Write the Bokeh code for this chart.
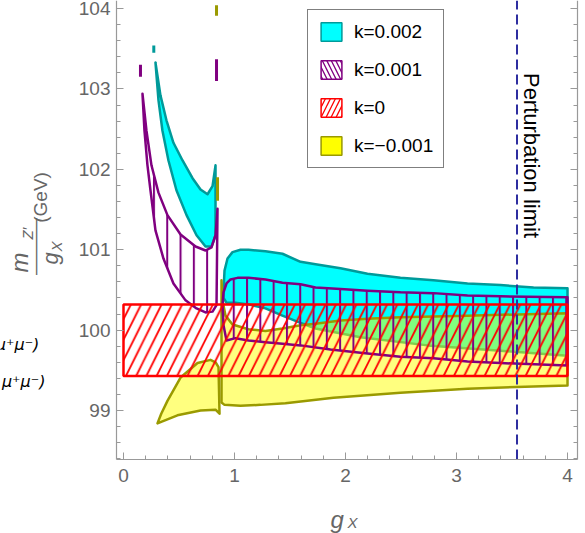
import math
from bokeh.plotting import figure
from bokeh.models import (Legend, LegendItem, Label, LinearAxis, Range1d,
                          SingleIntervalTicker, CustomJSTickFormatter)
from bokeh.embed import file_html
from bokeh.resources import INLINE

# ---------------- data ----------------
# k = 0.002 (cyan), left piece
cyan_l_top_x = [0.288, 0.333, 0.387, 0.450, 0.532, 0.622, 0.694, 0.757, 0.802, 0.829]
cyan_l_top_y = [103.33, 102.92, 102.61, 102.33, 102.11, 101.89, 101.75, 101.69, 101.79, 102.05]
cyan_l_bot_x = [0.288, 0.315, 0.351, 0.405, 0.477, 0.568, 0.658, 0.739, 0.793, 0.829]
cyan_l_bot_y = [103.33, 102.86, 102.48, 102.11, 101.74, 101.43, 101.18, 101.04, 101.04, 101.18]
# k = 0.002 (cyan), right piece
cyan_r_top_x = [0.901, 0.910, 0.937, 0.982, 1.054, 1.126, 1.279, 1.432, 1.595, 1.730, 1.955,
                2.198, 2.495, 2.793, 3.099, 3.396, 3.694, 4.000]
cyan_r_top_y = [100.49, 100.74, 100.89, 100.97, 101.00, 101.00, 100.98, 100.95, 100.85, 100.82,
                100.77, 100.70, 100.65, 100.62, 100.58, 100.56, 100.53, 100.52]
cyan_r_bot_x = [0.901, 0.928, 1.009, 1.126, 1.279, 1.432, 1.577, 1.730, 2.135, 2.739, 3.333, 4.000]
cyan_r_bot_y = [100.40, 100.34, 100.34, 100.32, 100.27, 100.18, 100.10, 100.02, 99.91, 99.81, 99.75, 99.68]

# k = 0.001 (purple hatched), left piece
pur_l_top_x = [0.171, 0.207, 0.252, 0.315, 0.396, 0.514, 0.649, 0.739, 0.793, 0.829, 0.847]
pur_l_top_y = [102.94, 102.48, 102.05, 101.71, 101.43, 101.19, 101.04, 100.99, 101.03, 101.18, 101.51]
pur_l_bot_x = [0.171, 0.189, 0.216, 0.243, 0.288, 0.360, 0.450, 0.559, 0.658, 0.739, 0.802, 0.838]
pur_l_bot_y = [102.94, 102.48, 102.05, 101.74, 101.24, 100.89, 100.58, 100.37, 100.27, 100.22, 100.23, 100.31]
# k = 0.001 (purple hatched), right piece
pur_r_top_x = [0.901, 0.928, 0.964, 1.027, 1.126, 1.279, 1.432, 1.595, 1.730, 1.955, 2.198, 2.495,
               2.793, 3.099, 3.396, 4.000]
pur_r_top_y = [100.47, 100.58, 100.63, 100.65, 100.65, 100.63, 100.59, 100.57, 100.53, 100.51, 100.49,
               100.47, 100.46, 100.43, 100.42, 100.41]
pur_r_bot_x = [0.892, 0.901, 0.928, 1.009, 1.126, 1.279, 1.432, 1.595, 1.865, 2.198, 2.495, 2.793,
               3.099, 3.396, 4.000]
pur_r_bot_y = [100.31, 100.06, 99.87, 99.90, 99.87, 99.85, 99.83, 99.81, 99.76, 99.71, 99.67, 99.65,
               99.61, 99.59, 99.56]

# k = 0 (red hatched band)
red_x = [0.0, 4.0]
red_y = [99.43, 100.32]

# k = -0.001 (yellow), left piece
yel_l_top_x = [0.306, 0.340, 0.396, 0.514, 0.667, 0.784, 0.829, 0.856]
yel_l_top_y = [98.84, 98.96, 99.12, 99.41, 99.59, 99.63, 99.60, 99.54]
yel_l_bot_x = [0.306, 0.486, 0.694, 0.829, 0.865]
yel_l_bot_y = [98.84, 98.94, 99.00, 99.01, 98.96]
# k = -0.001 (yellow), right piece
yel_r_top_x = [0.883, 0.892, 0.919, 0.982, 1.126, 1.279, 1.432, 1.595, 1.730, 1.955, 2.198, 2.495,
               2.793, 3.099, 3.396, 4.000]
yel_r_top_y = [100.62, 100.37, 100.18, 100.07, 100.01, 99.99, 100.02, 100.06, 100.08, 100.12, 100.14,
               100.16, 100.17, 100.18, 100.19, 100.21]
yel_r_bot_x = [0.883, 0.910, 1.054, 1.234, 1.459, 1.892, 2.495, 3.099, 3.694, 4.000]
yel_r_bot_y = [99.10, 99.07, 99.06, 99.07, 99.09, 99.16, 99.22, 99.27, 99.30, 99.31]

# small numerical fragments
frag_cyan_x, frag_cyan_y = [0.273, 0.273], [103.45, 103.54]
frag_pur_x = [[0.153, 0.153], [0.838, 0.838]]
frag_pur_y = [[103.15, 103.30], [103.10, 103.37]]
frag_yel_x = [[0.838, 0.838], [0.847, 0.847]]
frag_yel_y = [[103.91, 104.04], [101.61, 101.90]]

perturbation_limit = 3.545

legend_labels = ["k=0.002", "k=0.001", "k=0", "k=\u22120.001"]

# plot frame (axis extent) and canvas extent in data units
X_AXIS = (-0.063, 4.09)
Y_AXIS = (98.39, 104.10)
X_CANVAS = (-1.108, 4.162)
Y_CANVAS = (97.47, 104.10)

# ---------------- styles ----------------
CYAN, TEAL = "#00ffff", "#009a9a"
PURPLE = "#800080"
RED = "#ff0000"
YELLOW, OLIVE = "#ffff00", "#9a9a00"
GRAY_TXT, GRAY_AX = "#666666", "#999999"
FONT = "Liberation Sans"


def poly(tx, ty, bx, by):
    return tx + bx[::-1], ty + by[::-1]


p = figure(width=585, height=533, output_backend="svg", toolbar_location=None,
           x_range=Range1d(*X_CANVAS), y_range=Range1d(*Y_CANVAS),
           min_border_left=0, min_border_right=0, min_border_top=0, min_border_bottom=0,
           x_axis_location=None, y_axis_location=None)
p.grid.visible = False
p.outline_line_color = None
p.background_fill_color = "white"
p.border_fill_color = "white"

# cyan (opaque)
for tx, ty, bx, by in [(cyan_l_top_x, cyan_l_top_y, cyan_l_bot_x, cyan_l_bot_y),
                       (cyan_r_top_x, cyan_r_top_y, cyan_r_bot_x, cyan_r_bot_y)]:
    xs, ys = poly(tx, ty, bx, by)
    p.patch(xs, ys, fill_color=CYAN, line_color=TEAL, line_width=2.5, line_join="round")
p.line(frag_cyan_x, frag_cyan_y, line_color=TEAL, line_width=3)

# yellow (semi transparent, on top of cyan)
for tx, ty, bx, by in [(yel_l_top_x, yel_l_top_y, yel_l_bot_x, yel_l_bot_y),
                       (yel_r_top_x, yel_r_top_y, yel_r_bot_x, yel_r_bot_y)]:
    xs, ys = poly(tx, ty, bx, by)
    p.patch(xs, ys, fill_color=YELLOW, fill_alpha=0.5, line_color=OLIVE, line_width=2.5,
            line_join="round")
p.multi_line(frag_yel_x, frag_yel_y, line_color=OLIVE, line_width=3)

# purple hatched
for tx, ty, bx, by in [(pur_l_top_x, pur_l_top_y, pur_l_bot_x, pur_l_bot_y),
                       (pur_r_top_x, pur_r_top_y, pur_r_bot_x, pur_r_bot_y)]:
    xs, ys = poly(tx, ty, bx, by)
    p.patch(xs, ys, fill_alpha=0, hatch_pattern="|", hatch_color=PURPLE, hatch_scale=13.3,
            hatch_weight=2, line_color=PURPLE, line_width=2.5, line_join="round")
p.multi_line(frag_pur_x, frag_pur_y, line_color=PURPLE, line_width=3)

# red hatched band
band_x = [red_x[0], red_x[1], red_x[1], red_x[0]]
band_y = [red_y[0], red_y[0], red_y[1], red_y[1]]
p.patch(band_x, band_y, fill_alpha=0, hatch_pattern="/", hatch_color=RED, hatch_scale=20.5,
        hatch_weight=1.8, line_color=RED, line_width=2.5)

# perturbation limit (vertical dashed line across the axis extent)
p.segment(x0=[perturbation_limit], y0=[Y_AXIS[0]], x1=[perturbation_limit], y1=[Y_AXIS[1]],
          line_color="#2e2ea0", line_width=2, line_dash="10 5")

# ---------------- axes (frame drawn at fixed locations) ----------------
def tick():
    return SingleIntervalTicker(interval=1, num_minor_ticks=5)


bottom = LinearAxis(ticker=tick(), fixed_location=Y_AXIS[0], bounds=X_AXIS)
left = LinearAxis(ticker=tick(), fixed_location=X_AXIS[0], bounds=Y_AXIS)
right = LinearAxis(ticker=tick(), fixed_location=X_AXIS[1], bounds=Y_AXIS,
                   formatter=CustomJSTickFormatter(code="return ''"), major_label_standoff=0)
p.add_layout(bottom, "below")
p.add_layout(left, "left")
p.add_layout(right, "right")
for ax in [bottom, left, right]:
    ax.axis_line_color = GRAY_AX
    ax.axis_line_width = 1.2
    ax.major_tick_line_color = GRAY_AX
    ax.minor_tick_line_color = GRAY_AX
    ax.major_tick_in = 7
    ax.major_tick_out = 0
    ax.minor_tick_in = 4
    ax.minor_tick_out = 0
for ax in [bottom, left]:
    ax.major_label_text_font = FONT
    ax.major_label_text_font_size = "19px"
    ax.major_label_text_color = GRAY_TXT
bottom.major_label_standoff = 9
left.major_label_standoff = 6


def lab(text, x, y, size, color=GRAY_TXT, style="normal", angle=0.0, align="center",
        baseline="middle", font=FONT):
    p.add_layout(Label(x=x, y=y, text=text, angle=angle,
                       text_font=font, text_font_size=size, text_color=color,
                       text_font_style=style, text_align=align, text_baseline=baseline))


# x axis label g_X
lab("g", 1.865, 97.644, "24px", style="italic", align="left", baseline="alphabetic")
lab("X", 2.018, 97.607, "15px", style="italic", align="left", baseline="alphabetic")

# y axis label  m_Z' / g_X (GeV)
R = math.pi / 2
lab("(GeV)", -0.752, 101.650, "19px", angle=R)
lab("m", -0.937, 100.841, "24px", style="italic", angle=R)
lab("Z\u2032", -0.866, 101.201, "15px", style="italic", angle=R)
lab("\u2014\u2014\u2014", -0.802, 101.040, "19px", angle=R)
lab("g", -0.658, 100.891, "22px", style="italic", angle=R)
lab("X", -0.604, 101.040, "15px", style="italic", angle=R)

# labels cut by the left edge of the picture
lab("\u03bc\u207a\u03bc\u207b)", -1.150, 99.821, "16px", color="black", style="italic",
    align="left", font="DejaVu Sans")
lab("\u03bc\u207a\u03bc\u207b)", -1.095, 99.361, "16px", color="black", style="italic",
    align="left", font="DejaVu Sans")

# perturbation text
lab("Perturbation limit", 3.676, 102.172, "22px", color="black", angle=-R)

# ---------------- legend ----------------
leg_style = [dict(fill_color=CYAN, line_color=TEAL),
             dict(fill_alpha=0, hatch_pattern="\\", hatch_color=PURPLE, hatch_scale=9,
                  hatch_weight=1.3, line_color=PURPLE),
             dict(fill_alpha=0, hatch_pattern="/", hatch_color=RED, hatch_scale=10,
                  hatch_weight=1.3, line_color=RED),
             dict(fill_color=YELLOW, line_color=OLIVE)]
dummies = []
for st in leg_style:
    r = p.patch(band_x, band_y, line_width=1.5, **st)
    r.visible = False
    dummies.append(r)
legend = Legend(items=[LegendItem(label=l, renderers=[r]) for l, r in zip(legend_labels, dummies)],
                location=(307, 365), glyph_width=26, glyph_height=23, label_standoff=10,
                spacing=15, padding=10, margin=0, label_text_font=FONT,
                label_text_font_size="19px", label_text_color="black",
                border_line_color="black", border_line_width=1.3,
                background_fill_color="white", background_fill_alpha=1,
                inactive_fill_alpha=0)
p.add_layout(legend)

open("out.html", "w").write(file_html(p, INLINE))
